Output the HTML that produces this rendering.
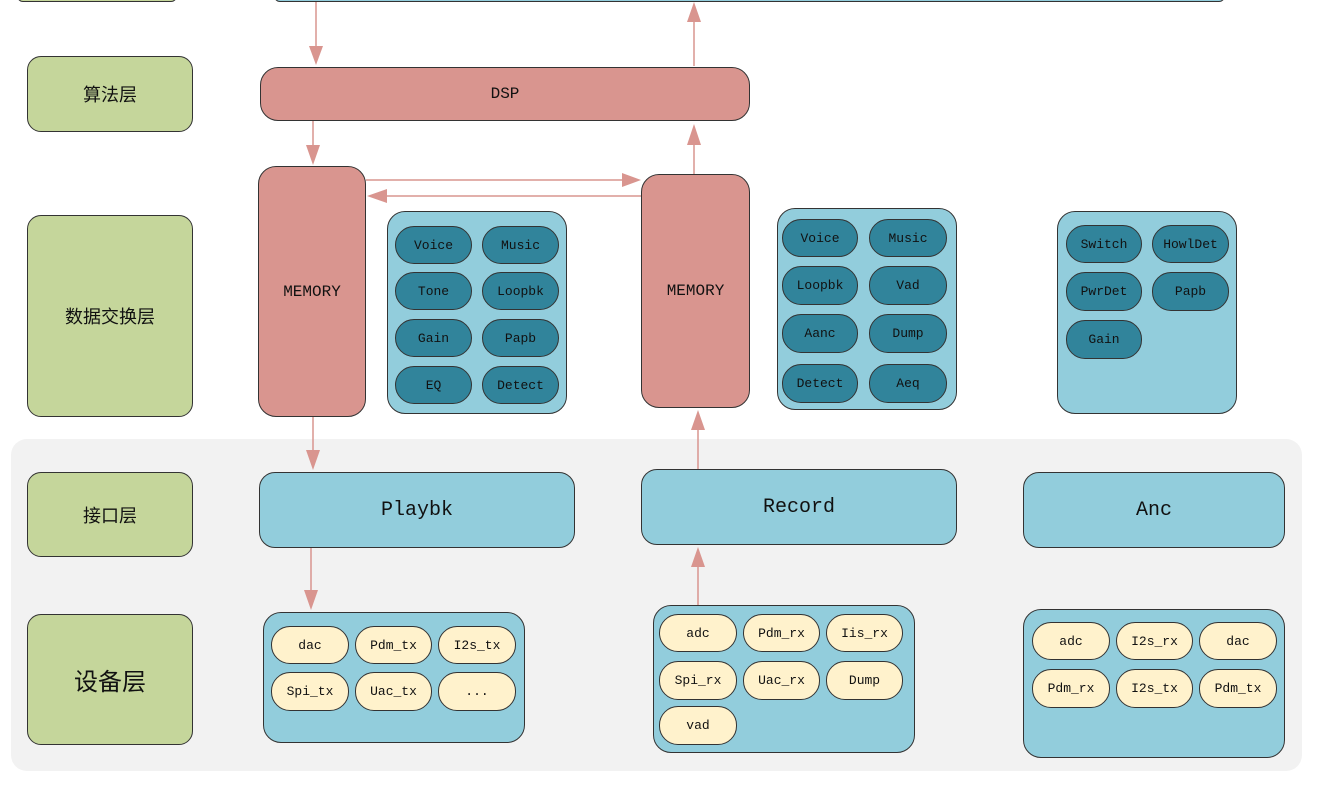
<!DOCTYPE html>
<html><head><meta charset="utf-8"><style>
body{margin:0;width:1320px;height:803px;background:#fff;position:relative;overflow:hidden;font-family:"Liberation Mono","Noto Sans CJK SC",monospace;}
.b{position:absolute;box-sizing:border-box;border:1.5px solid #333;display:flex;align-items:center;justify-content:center;color:#111;}
.lab{background:#c5d69b;border-radius:14px;font-family:"Liberation Sans","Noto Sans CJK SC",sans-serif;font-size:18px;}
.red{background:#d9958f;border-radius:18px;font-size:16px;}
.pan{background:#92cddc;border-radius:18px;}
.pd{background:#31849b;border-radius:19px;font-size:13px;}
.py{background:#fff2cc;border-radius:19px;font-size:13px;}
.if{background:#92cddc;border-radius:16px;font-size:20px;}
</style></head><body>
<div style="position:absolute;left:11px;top:439px;width:1291px;height:332px;background:#f2f2f2;border-radius:16px"></div>
<div style="position:absolute;left:17px;top:-10px;width:160px;height:12px;border:1.5px solid #333;border-radius:6px;background:#c5d69b;box-sizing:border-box"></div>
<div style="position:absolute;left:274px;top:-10px;width:951px;height:12px;border:1.5px solid #333;border-radius:6px;background:#92cddc;box-sizing:border-box"></div>

<div class="b lab" style="left:27px;top:56px;width:166px;height:76px">算法层</div>
<div class="b lab" style="left:27px;top:215px;width:166px;height:202px">数据交换层</div>
<div class="b lab" style="left:27px;top:472px;width:166px;height:85px">接口层</div>
<div class="b lab" style="left:27px;top:614px;width:166px;height:131px;font-size:24px">设备层</div>

<div class="b red" style="left:260px;top:67px;width:490px;height:54px">DSP</div>
<div class="b red" style="left:258px;top:166px;width:108px;height:251px">MEMORY</div>
<div class="b red" style="left:641px;top:174px;width:109px;height:234px">MEMORY</div>

<div class="b pan" style="left:387px;top:211px;width:180px;height:203px"></div>
<div class="b pd" style="left:395px;top:226px;width:77px;height:38px">Voice</div>
<div class="b pd" style="left:482px;top:226px;width:77px;height:38px">Music</div>
<div class="b pd" style="left:395px;top:272px;width:77px;height:38px">Tone</div>
<div class="b pd" style="left:482px;top:272px;width:77px;height:38px">Loopbk</div>
<div class="b pd" style="left:395px;top:319px;width:77px;height:38px">Gain</div>
<div class="b pd" style="left:482px;top:319px;width:77px;height:38px">Papb</div>
<div class="b pd" style="left:395px;top:366px;width:77px;height:38px">EQ</div>
<div class="b pd" style="left:482px;top:366px;width:77px;height:38px">Detect</div>

<div class="b pan" style="left:777px;top:208px;width:180px;height:202px"></div>
<div class="b pd" style="left:782px;top:219px;width:76px;height:38px">Voice</div>
<div class="b pd" style="left:869px;top:219px;width:78px;height:38px">Music</div>
<div class="b pd" style="left:782px;top:266px;width:76px;height:39px">Loopbk</div>
<div class="b pd" style="left:869px;top:266px;width:78px;height:39px">Vad</div>
<div class="b pd" style="left:782px;top:314px;width:76px;height:39px">Aanc</div>
<div class="b pd" style="left:869px;top:314px;width:78px;height:39px">Dump</div>
<div class="b pd" style="left:782px;top:364px;width:76px;height:39px">Detect</div>
<div class="b pd" style="left:869px;top:364px;width:78px;height:39px">Aeq</div>

<div class="b pan" style="left:1057px;top:211px;width:180px;height:203px"></div>
<div class="b pd" style="left:1066px;top:225px;width:76px;height:38px">Switch</div>
<div class="b pd" style="left:1152px;top:225px;width:77px;height:38px">HowlDet</div>
<div class="b pd" style="left:1066px;top:272px;width:76px;height:39px">PwrDet</div>
<div class="b pd" style="left:1152px;top:272px;width:77px;height:39px">Papb</div>
<div class="b pd" style="left:1066px;top:320px;width:76px;height:39px">Gain</div>

<div class="b if" style="left:259px;top:472px;width:316px;height:76px">Playbk</div>
<div class="b if" style="left:641px;top:469px;width:316px;height:76px">Record</div>
<div class="b if" style="left:1023px;top:472px;width:262px;height:76px">Anc</div>

<div class="b pan" style="left:263px;top:612px;width:262px;height:131px"></div>
<div class="b py" style="left:271px;top:626px;width:78px;height:38px">dac</div>
<div class="b py" style="left:355px;top:626px;width:77px;height:38px">Pdm_tx</div>
<div class="b py" style="left:438px;top:626px;width:78px;height:38px">I2s_tx</div>
<div class="b py" style="left:271px;top:672px;width:78px;height:39px">Spi_tx</div>
<div class="b py" style="left:355px;top:672px;width:77px;height:39px">Uac_tx</div>
<div class="b py" style="left:438px;top:672px;width:78px;height:39px">...</div>

<div class="b pan" style="left:653px;top:605px;width:262px;height:148px"></div>
<div class="b py" style="left:659px;top:614px;width:78px;height:38px">adc</div>
<div class="b py" style="left:743px;top:614px;width:77px;height:38px">Pdm_rx</div>
<div class="b py" style="left:826px;top:614px;width:77px;height:38px">Iis_rx</div>
<div class="b py" style="left:659px;top:661px;width:78px;height:39px">Spi_rx</div>
<div class="b py" style="left:743px;top:661px;width:77px;height:39px">Uac_rx</div>
<div class="b py" style="left:826px;top:661px;width:77px;height:39px">Dump</div>
<div class="b py" style="left:659px;top:706px;width:78px;height:39px">vad</div>

<div class="b pan" style="left:1023px;top:609px;width:262px;height:149px"></div>
<div class="b py" style="left:1032px;top:622px;width:78px;height:38px">adc</div>
<div class="b py" style="left:1116px;top:622px;width:77px;height:38px">I2s_rx</div>
<div class="b py" style="left:1199px;top:622px;width:78px;height:38px">dac</div>
<div class="b py" style="left:1032px;top:669px;width:78px;height:39px">Pdm_rx</div>
<div class="b py" style="left:1116px;top:669px;width:77px;height:39px">I2s_tx</div>
<div class="b py" style="left:1199px;top:669px;width:78px;height:39px">Pdm_tx</div>

<svg width="1320" height="803" style="position:absolute;left:0;top:0" fill="#d9958f" stroke="#d9958f">
<g stroke-width="1.5">
<line x1="316" y1="2" x2="316" y2="48"/><polygon stroke="none" points="309,46 323,46 316,65"/>
<line x1="694" y1="66" x2="694" y2="20"/><polygon stroke="none" points="687,22 701,22 694,2"/>
<line x1="313" y1="121" x2="313" y2="147"/><polygon stroke="none" points="306,145 320,145 313,165"/>
<line x1="694" y1="174" x2="694" y2="143"/><polygon stroke="none" points="687,145 701,145 694,124"/>
<line x1="366" y1="180" x2="625" y2="180"/><polygon stroke="none" points="622,173 622,187 641,180"/>
<line x1="641" y1="196" x2="384" y2="196"/><polygon stroke="none" points="387,189 387,203 367,196"/>
<line x1="313" y1="417" x2="313" y2="452"/><polygon stroke="none" points="306,450 320,450 313,470"/>
<line x1="698" y1="469" x2="698" y2="428"/><polygon stroke="none" points="691,430 705,430 698,410"/>
<line x1="311" y1="548" x2="311" y2="592"/><polygon stroke="none" points="304,590 318,590 311,610"/>
<line x1="698" y1="605" x2="698" y2="565"/><polygon stroke="none" points="691,567 705,567 698,547"/>
</g></svg>
</body></html>
